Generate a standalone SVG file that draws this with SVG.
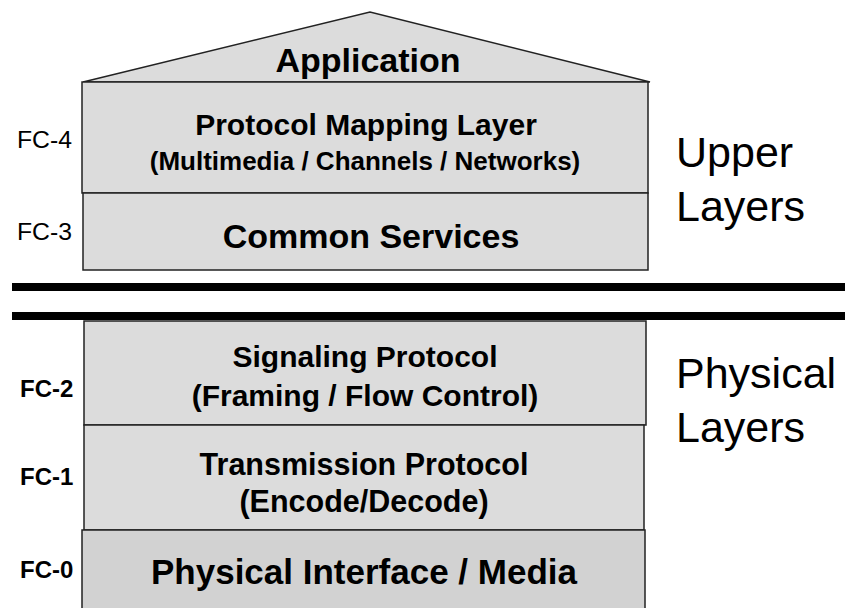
<svg xmlns="http://www.w3.org/2000/svg" width="845" height="608" viewBox="0 0 845 608">
  <style>
    .box { fill: #dcdcdc; stroke: #222; stroke-width: 1.5; }
    .box0 { fill: #d2d2d2; stroke: #222; stroke-width: 1.5; }
    .t { font-family: "Liberation Sans", Arial, sans-serif; font-weight: bold; fill: #000; text-anchor: middle; }
    .fc { font-family: "Liberation Sans", Arial, sans-serif; fill: #000; font-size: 24px; }
    .side { font-family: "Liberation Sans", Arial, sans-serif; fill: #000; font-size: 43px; }
    .bar { stroke: #000; stroke-width: 8; }
  </style>

  <!-- Application roof -->
  <g id="application">
    <polygon class="box" points="83,82 370,12 650,82"/>
    <text class="t" x="368" y="72" font-size="34">Application</text>
  </g>

  <!-- FC-4 -->
  <g id="fc4">
    <rect class="box" x="82" y="82" width="566" height="111"/>
    <text class="t" x="366" y="135" font-size="30">Protocol Mapping Layer</text>
    <text class="t" x="365" y="170" font-size="26">(Multimedia / Channels / Networks)</text>
    <text class="fc" x="17" y="148" textLength="55" lengthAdjust="spacingAndGlyphs">FC-4</text>
  </g>

  <!-- FC-3 -->
  <g id="fc3">
    <rect class="box" x="83" y="193" width="565" height="77"/>
    <text class="t" x="371" y="248" font-size="34">Common Services</text>
    <text class="fc" x="17" y="240" textLength="55" lengthAdjust="spacingAndGlyphs">FC-3</text>
  </g>

  <!-- Upper / physical separators -->
  <g id="separators">
    <line class="bar" x1="12" y1="287" x2="845" y2="287"/>
    <line class="bar" x1="12" y1="316" x2="845" y2="316"/>
  </g>

  <!-- FC-2 -->
  <g id="fc2">
    <rect class="box" x="84" y="321" width="562" height="104"/>
    <text class="t" x="365" y="367" font-size="30">Signaling Protocol</text>
    <text class="t" x="365" y="406" font-size="30">(Framing / Flow Control)</text>
    <text class="fc" x="20" y="397" font-weight="bold">FC-2</text>
  </g>

  <!-- FC-1 -->
  <g id="fc1">
    <rect class="box" x="84" y="425" width="560" height="105"/>
    <text class="t" x="364" y="475" font-size="30.5">Transmission Protocol</text>
    <text class="t" x="364" y="512" font-size="30.5">(Encode/Decode)</text>
    <text class="fc" x="20" y="485" font-weight="bold">FC-1</text>
  </g>

  <!-- FC-0 -->
  <g id="fc0">
    <rect class="box0" x="82" y="530" width="563" height="82"/>
    <text class="t" x="364" y="584" font-size="35">Physical Interface / Media</text>
    <text class="fc" x="20" y="578" font-weight="bold">FC-0</text>
  </g>

  <!-- Group labels -->
  <g id="upper-label">
    <text class="side" x="676" y="167">Upper</text>
    <text class="side" x="676" y="221">Layers</text>
  </g>
  <g id="physical-label">
    <text class="side" x="676" y="388">Physical</text>
    <text class="side" x="676" y="442">Layers</text>
  </g>
</svg>
